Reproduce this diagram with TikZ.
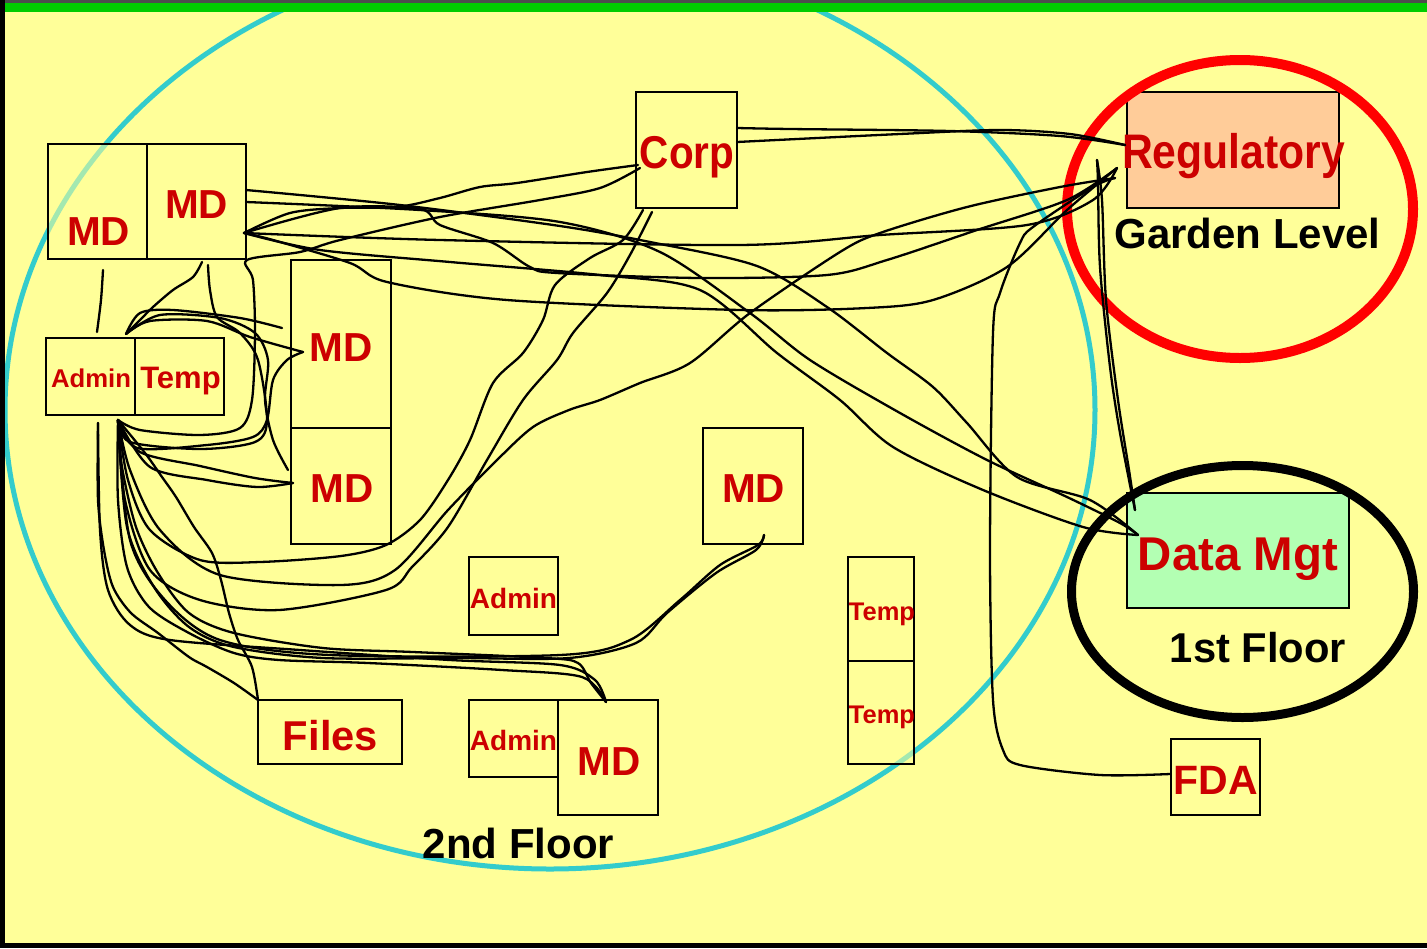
\documentclass[tikz,border=0pt]{standalone}
\usepackage{fontspec}
\setmainfont{Liberation Sans}
\newfontfamily\condfont[FakeStretch=0.88]{Liberation Sans}
\newcommand{\setfs}[1]{\fontsize{#1}{#1}\selectfont}
\definecolor{bgyellow}{HTML}{FFFF99}
\definecolor{txtred}{HTML}{CC0000}
\definecolor{cyanl}{HTML}{33CCCC}
\definecolor{regfill}{HTML}{FFCC99}
\definecolor{dmfill}{HTML}{B3FFB3}
\definecolor{barg}{HTML}{00CC00}
\begin{document}
\begin{tikzpicture}[x=1pt,y=-1pt,
  box/.style 2 args={draw=black, line width=2.8pt, fill=bgyellow, fill opacity=0.55, draw opacity=1, text opacity=1, inner sep=0pt, minimum width=#1pt, minimum height=#2pt},
  rt/.style={text=txtred, inner sep=0pt, anchor=base, font=\bfseries\setfs{#1}},
  bt/.style={text=black, inner sep=0pt, anchor=base, font=\bfseries\setfs{#1}},
  wire/.style={draw=black, line width=2.3pt, line cap=round, line join=round}]
\useasboundingbox (0,0) rectangle (1427,948);
\fill[bgyellow] (0,0) rectangle (1427,948);
\begin{scope}
\clip (0,0) rectangle (1427,948);
\draw[cyanl, line width=5pt] (550,410) ellipse [x radius=545, y radius=459];
\end{scope}

% boxes
\node[box={99}{115}] (md1) at (97.5,201.5) {};
\node[box={99}{115}] (md2) at (196.5,201.5) {};
\node[box={89}{77}] (admin1) at (90.5,376.5) {};
\node[box={89}{77}] (temp1) at (179.5,376.5) {};
\node[box={100}{168}] (md3) at (341,344) {};
\node[box={100}{116}] (md4) at (341,486) {};
\node[box={101}{116}] (corp) at (686.5,150) {};
\node[box={212}{116}, fill=regfill, fill opacity=1] (reg) at (1233,150) {};
\node[box={100}{116}] (mdr) at (753,486) {};
\node[box={89}{78}] (admin2) at (513.5,596) {};
\node[box={66}{104}] (temp2) at (881,609) {};
\node[box={66}{103}] (temp3) at (881,712.5) {};
\node[box={144}{64}] (files) at (330,732) {};
\node[box={89}{77}] (admin3) at (513.5,738.5) {};
\node[box={100}{115}] (mdb) at (608,757.5) {};
\node[box={222}{115}, fill=dmfill, fill opacity=1] (dm) at (1238,550.5) {};
\node[box={89}{76}] (fda) at (1215.5,777) {};

% texts
\node[rt=40.5] (md1t) at (98.5,245) {MD};
\node[rt=40.5] (md2t) at (196.5,218) {MD};
\node[rt=25.7] (admin1t) at (91,387) {Admin};
\node[rt=31] (temp1t) at (180.5,388) {Temp};
\node[rt=40.5] (md3t) at (341,361) {MD};
\node[rt=40.5] (md4t) at (342,502) {MD};
\node[rt=46, font=\condfont\bfseries\setfs{46}] (corpt) at (687,168) {Corp};
\node[rt=48.5, font=\condfont\bfseries\setfs{48.5}] (regt) at (1233.5,168) {Regulatory};
\node[bt=42] (garden) at (1247.5,248) {Garden Level};
\node[rt=40.5] (mdrt) at (753.5,502) {MD};
\node[rt=28] (admin2t) at (513.5,608) {Admin};
\node[rt=25.5] (temp2t) at (882,620) {Temp};
\node[rt=25.5] (temp3t) at (882,723) {Temp};
\node[rt=41.7] (filest) at (330.5,750) {Files};
\node[rt=28] (admin3t) at (513.5,750) {Admin};
\node[rt=40.5] (mdbt) at (609,775) {MD};
\node[rt=47.4] (dmt) at (1238,570) {Data Mgt};
\node[bt=41.7] (first) at (1258,662) {1st Floor};
\node[rt=41] (fdat) at (1216,794) {FDA};
\node[bt=42] (second) at (518.5,858) {2nd Floor};

% floor ellipses
\draw[red, line width=10pt] (1240,209) ellipse [x radius=173, y radius=149];
\draw[black, line width=9pt] (1242.5,591.5) ellipse [x radius=171, y radius=126];

% connection points
\coordinate (adB) at (118,420);
\coordinate (adBL) at (98,423);
\coordinate (adT) at (126,334);
\coordinate (m2a) at (246,190);
\coordinate (m2b) at (246,202);
\coordinate (m2h) at (244,233);
\coordinate (m2c) at (247,260);
\coordinate (m2d) at (202,262);
\coordinate (m2e) at (208,265);
\coordinate (m1b) at (103,270);
\coordinate (corpA) at (737,128);
\coordinate (corpB) at (737,142);
\coordinate (corpL) at (638,165);
\coordinate (corpL2) at (640,168);
\coordinate (corpB1) at (643,210);
\coordinate (corpB2) at (652,212);
\coordinate (regL) at (1125,145);
\coordinate (regL2) at (1117,168);
\coordinate (regL3) at (1115,178);
\coordinate (regV) at (1097,160);
\coordinate (dmL) at (1138,535);
\coordinate (dmT) at (1135,510);
\coordinate (fdaL) at (1170,774);
\coordinate (md3L) at (303,352);
\coordinate (md3L2) at (282,328);
\coordinate (md3b) at (288,470);
\coordinate (md4L) at (293,483);
\coordinate (mdrB) at (764,535);
\coordinate (mdbT) at (606,702);
\coordinate (filesT) at (258,700);

% wires
\draw[wire] plot[smooth] coordinates {(corpA) (790,129) (950,131) (1060,136) (regL)};
\draw[wire] plot[smooth] coordinates {(corpB) (900,134) (1000,130) (1070,134) (regL)};

\draw[wire] plot[smooth] coordinates {(m2a) (400,205) (560,226) (650,242) (757,266) (827,307) (887,353) (933,387) (967,423) (1017,477) (1090,500) (dmL)};
\draw[wire] plot[smooth] coordinates {(m2b) (420,210) (560,222) (660,252) (750,313) (810,360) (900,413) (987,460) (1067,497) (1120,523) (dmL)};
\draw[wire] plot[smooth] coordinates {(m2h) (320,250) (450,262) (600,275) (700,290) (777,353) (840,400) (893,447) (983,490) (1083,527) (dmL)};

\draw[wire] plot[smooth] coordinates {(m2h) (273,240) (350,263) (387,282) (507,300) (740,310) (867,308) (933,300) (1007,267) (1067,210) (regL2)};
\draw[wire] plot[smooth] coordinates {(m2h) (440,240) (740,245) (880,235) (1027,225) (1093,200) (regL2)};
\draw[wire] plot[smooth] coordinates {(m2h) (340,208) (420,209) (440,225) (493,243) (530,267) (557,273) (700,278) (827,275) (887,260) (977,230) (1067,200) (regL2)};

\draw[wire] plot[smooth] coordinates {(adB) (130,470) (160,530) (220,575) (341,585) (395,570) (448,510) (497,460) (533,427) (569,410) (600,400) (640,383) (690,363) (750,313) (840,252) (880,233) (967,207) (1060,187) (regL3)};

\draw[wire] plot[smooth] coordinates {(adB) (128,480) (150,530) (200,560) (260,562) (341,556) (386,545) (420,520) (448,480) (470,440) (493,383) (523,353) (543,320) (555,285) (590,258) (623,240) (corpB1)};
\draw[wire] plot[smooth] coordinates {(adB) (125,500) (150,570) (200,600) (279,610) (386,590) (412,567) (448,527) (487,460) (523,400) (557,360) (573,333) (607,293) (630,255) (corpB2)};

\draw[wire] plot[smooth] coordinates {(corpL) (587,172) (517,183) (480,187) (440,198) (397,207) (340,208) (290,213) (m2h)};
\draw[wire] plot[smooth] coordinates {(corpL2) (600,188) (540,200) (440,217) (340,240) (300,252) (m2c) (253,280) (255,333) (252,400) (240,428) (200,435) (140,430) (adB)};

\draw[wire] plot[smooth] coordinates {(m1b) (101,300) (97,332)};
\draw[wire] plot[smooth] coordinates {(m2d) (193,277) (173,290) (153,307) (140,320) (adT)};
\draw[wire] plot[smooth] coordinates {(m2e) (210,290) (217,317) (240,333) (258,360) (267,420) (255,442) (200,449) (130,442) (adB)};
\draw[wire] plot[smooth] coordinates {(adT) (140,313) (173,310) (240,318) (md3L2)};
\draw[wire] plot[smooth] coordinates {(adT) (150,321) (207,321) (250,337) (md3L)};
\draw[wire] plot[smooth] coordinates {(md3L) (287,360) (273,380) (267,420) (253,437) (207,445) (137,448) (adB)};
\draw[wire] plot[smooth] coordinates {(md3b) (273,440) (265,400) (268,360) (255,333) (220,318) (160,315) (adT)};
\draw[wire] plot[smooth] coordinates {(adB) (150,467) (207,480) (257,487) (md4L)};
\draw[wire] plot[smooth] coordinates {(adB) (140,452) (200,466) (255,478) (md4L)};

\draw[wire] plot[smooth] coordinates {(adB) (145,453) (162,477) (176,497) (194,527) (212,553) (221,580) (229,613) (238,640) (252,667) (filesT)};
\draw[wire] plot[smooth] coordinates {(adBL) (98,500) (104,550) (113,587) (131,613) (158,633) (189,657) (207,667) (234,683) (filesT)};
\draw[wire] plot[smooth] coordinates {(adB) (122,467) (136,527) (158,573) (189,613) (234,633) (323,648) (413,652) (546,658) (578,663) (591,683) (mdbT)};
\draw[wire] plot[smooth] coordinates {(adB) (118,500) (127,567) (149,607) (189,633) (234,653) (279,660) (368,663) (502,670) (582,677) (mdbT)};
\draw[wire] plot[smooth] coordinates {(adBL) (100,530) (108,590) (130,625) (170,640) (300,650) (450,660) (560,665) (595,680) (mdbT)};
\draw[wire] plot[smooth] coordinates {(adB) (127,527) (154,587) (189,627) (234,647) (323,658) (457,658) (569,658) (636,643) (667,613) (716,573) (756,550) (mdrB)};
\draw[wire] plot[smooth] coordinates {(adB) (130,540) (165,600) (220,640) (330,655) (560,655) (630,640) (680,600) (720,565) (758,545) (mdrB)};

\draw[wire] plot[smooth] coordinates {(regV) (1098,183) (1100,267) (1110,367) (1120,433) (dmT)};
\draw[wire] plot[smooth] coordinates {(regV) (1102,200) (1106,300) (1118,400) (1129,470) (dmT)};
\draw[wire] plot[smooth] coordinates {(regL3) (1093,187) (1033,227) (1020,243) (1000,293) (993,333) (990,550) (993,700) (1003,750) (1020,765) (1100,775) (fdaL)};

% frame
\fill[black!70] (0,0) rectangle (1427,2.5);
\fill[barg] (0,2.5) rectangle (1427,12);
\fill[black] (0,0) rectangle (5,948);
\fill[black] (0,943) rectangle (1427,948);
\end{tikzpicture}
\end{document}
